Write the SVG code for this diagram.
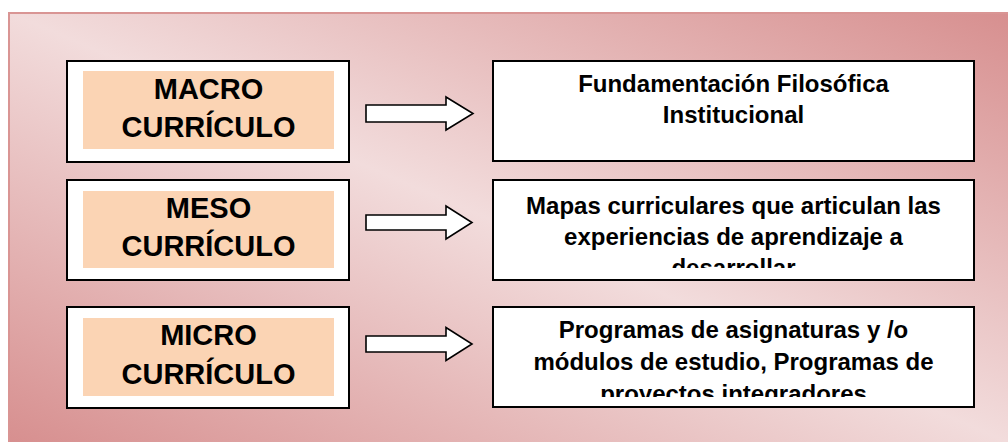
<svg xmlns="http://www.w3.org/2000/svg" width="1008" height="442" viewBox="0 0 1008 442">
  <defs>
    <linearGradient id="bg" gradientUnits="userSpaceOnUse" x1="352" y1="590" x2="664" y2="-136">
      <stop offset="0" stop-color="#d78f8f"/>
      <stop offset="0.5" stop-color="#f2dcdc"/>
      <stop offset="1" stop-color="#d78f8f"/>
    </linearGradient>
    <clipPath id="clipMeso"><rect x="493" y="180" width="481" height="88"/></clipPath>
    <clipPath id="clipMicro"><rect x="493" y="307" width="481" height="90"/></clipPath>
  </defs>
  <style>
    .frame { fill: #ffffff; stroke: #000000; stroke-width: 2; }
    .peach { fill: #fbd4b4; }
    .lbl { font-family: "Liberation Sans", Arial, sans-serif; font-weight: bold; font-size: 29px; fill: #000000; text-anchor: middle; }
    .desc { font-family: "Liberation Sans", Arial, sans-serif; font-weight: bold; font-size: 24px; fill: #000000; text-anchor: middle; }
    .arrow { fill: #ffffff; stroke: #000000; stroke-width: 1.6; stroke-linejoin: miter; }
  </style>

  <rect x="9" y="13" width="1010" height="440" fill="url(#bg)" stroke="#d99594" stroke-width="2"/>

  <g id="macro">
    <rect class="frame" x="67" y="61" width="282" height="101"/>
    <rect class="peach" x="83" y="71" width="251" height="78"/>
    <text class="lbl" x="208.5" y="99">MACRO</text>
    <text class="lbl" x="208.5" y="137">CURRÍCULO</text>
  </g>
  <g id="meso">
    <rect class="frame" x="67" y="180" width="282" height="100"/>
    <rect class="peach" x="83" y="191" width="251" height="77"/>
    <text class="lbl" x="208.5" y="218">MESO</text>
    <text class="lbl" x="208.5" y="256">CURRÍCULO</text>
  </g>
  <g id="micro">
    <rect class="frame" x="67" y="307" width="282" height="101"/>
    <rect class="peach" x="83" y="318" width="251" height="78"/>
    <text class="lbl" x="208.5" y="345">MICRO</text>
    <text class="lbl" x="208.5" y="384">CURRÍCULO</text>
  </g>

  <g id="fundamentacion">
    <rect class="frame" x="493" y="61" width="481" height="100"/>
    <text class="desc" x="733.5" y="92">Fundamentación Filosófica</text>
    <text class="desc" x="733.5" y="123">Institucional</text>
  </g>
  <g id="mapas">
    <rect class="frame" x="493" y="180" width="481" height="100"/>
    <g clip-path="url(#clipMeso)">
      <text class="desc" x="733.5" y="214">Mapas curriculares que articulan las</text>
      <text class="desc" x="733.5" y="245">experiencias de aprendizaje a</text>
      <text class="desc" x="733.5" y="276">desarrollar</text>
    </g>
  </g>
  <g id="programas">
    <rect class="frame" x="493" y="307" width="481" height="100"/>
    <g clip-path="url(#clipMicro)">
      <text class="desc" x="733.5" y="338">Programas de asignaturas y /o</text>
      <text class="desc" x="733.5" y="370">módulos de estudio, Programas de</text>
      <text class="desc" x="733.5" y="402">proyectos integradores</text>
    </g>
  </g>

  <g id="connectors">
    <polygon class="arrow" points="366,105 446,105 446,97 473,113.5 446,130 446,122 366,122"/>
    <polygon class="arrow" points="366,215 446,215 446,206 472,222.5 446,239 446,230 366,230"/>
    <polygon class="arrow" points="366,336 446,336 446,327.5 472,344 446,360.5 446,352 366,352"/>
  </g>
</svg>
